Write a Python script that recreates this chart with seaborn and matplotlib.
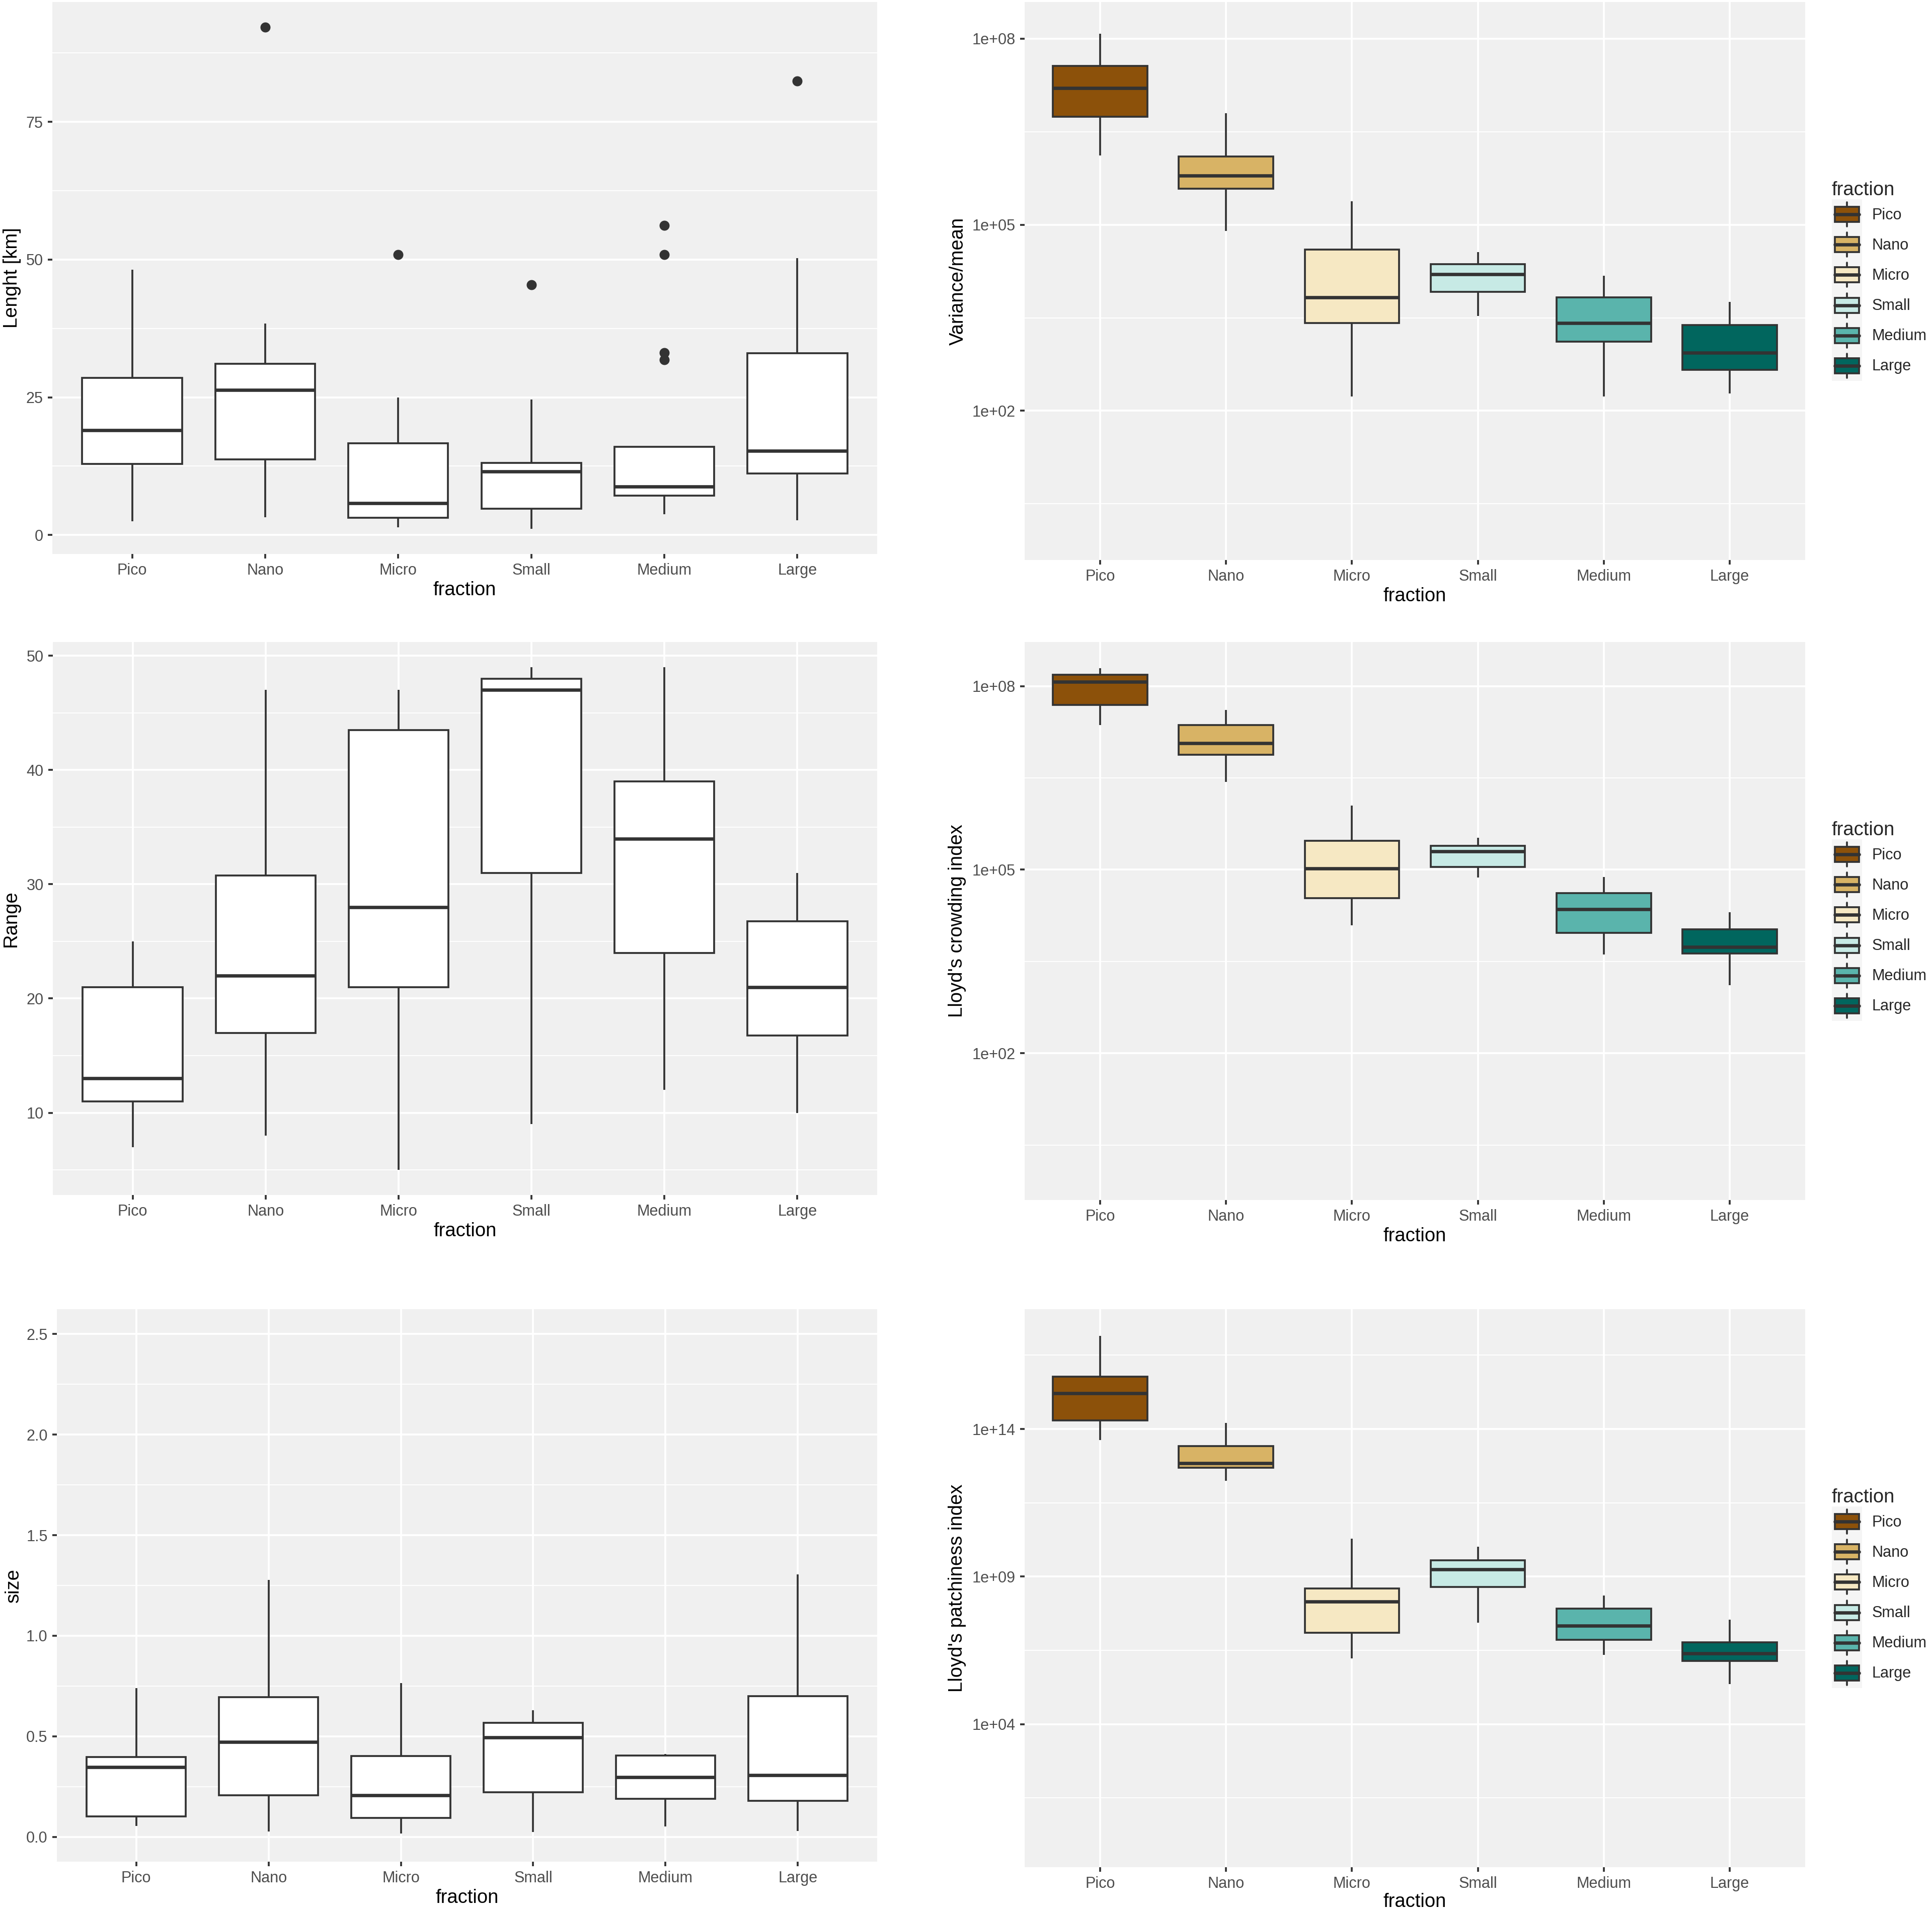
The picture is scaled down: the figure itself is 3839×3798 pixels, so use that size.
import pandas as pd
import seaborn as sns
import matplotlib
matplotlib.use('Agg')
import matplotlib.pyplot as plt
from matplotlib.ticker import FixedLocator, FixedFormatter
from matplotlib.patches import Patch, Rectangle
from matplotlib.lines import Line2D
from matplotlib.legend_handler import HandlerBase

fractions = ['Pico', 'Nano', 'Micro', 'Small', 'Medium', 'Large']
brbg = ['#8C510A', '#D8B365', '#F6E8C3', '#C7EAE5', '#5AB4AC', '#01665E']

# five-number summaries per fraction: lower whisker, Q1, median, Q3, upper whisker
length_stats = [[2.5, 12.9, 19.0, 28.5, 48.2],
                [3.2, 13.7, 26.3, 31.1, 38.4],
                [1.4, 3.1, 5.8, 16.6, 25.0],
                [1.1, 4.8, 11.5, 13.1, 24.6],
                [3.8, 7.1, 8.8, 16.0, 16.0],
                [2.7, 11.2, 15.3, 33.0, 50.3]]
length_out_frac = ['Nano', 'Micro', 'Small', 'Medium', 'Medium', 'Medium', 'Medium', 'Large']
length_out_val = [92.2, 50.9, 45.4, 31.8, 33.1, 50.9, 56.2, 82.4]

range_stats = [[7, 11, 13, 21, 25],
               [8, 17, 22, 30.75, 47],
               [5, 21, 28, 43.5, 47],
               [9, 31, 47, 48, 49],
               [12, 24, 34, 39, 49],
               [10, 16.75, 21, 26.75, 31]]

size_stats = [[0.055, 0.103, 0.347, 0.397, 0.739],
              [0.027, 0.207, 0.473, 0.694, 1.278],
              [0.016, 0.095, 0.207, 0.403, 0.766],
              [0.025, 0.222, 0.495, 0.567, 0.631],
              [0.053, 0.189, 0.296, 0.405, 0.413],
              [0.029, 0.179, 0.306, 0.701, 1.306]]

varmean_stats = [[1.3e6, 5.5e6, 1.6e7, 3.6e7, 1.2e8],
                 [8.0e4, 3.8e5, 6.2e5, 1.25e6, 6.3e6],
                 [1.7e2, 2.6e3, 6.8e3, 4.0e4, 2.4e5],
                 [3.4e3, 8.3e3, 1.6e4, 2.3e4, 3.6e4],
                 [1.7e2, 1.3e3, 2.6e3, 6.7e3, 1.5e4],
                 [1.9e2, 4.6e2, 8.6e2, 2.4e3, 5.7e3]]

crowding_stats = [[2.3e7, 4.9e7, 1.17e8, 1.53e8, 1.95e8],
                  [2.7e6, 7.6e6, 1.17e7, 2.3e7, 4.1e7],
                  [1.23e4, 3.4e4, 1.05e5, 2.95e5, 1.12e6],
                  [7.4e4, 1.1e5, 2.0e5, 2.45e5, 3.3e5],
                  [4.1e3, 9.3e3, 2.24e4, 4.1e4, 7.6e4],
                  [1.3e3, 4.3e3, 5.4e3, 1.05e4, 2.0e4]]

patchiness_stats = [[4.3e13, 1.95e14, 1.66e15, 6.0e15, 1.46e17],
                    [1.74e12, 4.8e12, 6.9e12, 2.6e13, 1.6e14],
                    [1.7e6, 1.23e7, 1.45e8, 4.0e8, 1.95e10],
                    [2.75e7, 4.5e8, 1.74e9, 3.6e9, 1.02e10],
                    [2.2e6, 7.1e6, 2.2e7, 8.1e7, 2.24e8],
                    [2.3e5, 1.4e6, 2.45e6, 6.0e6, 3.5e7]]

EDGE = '#333333'
PANEL = '#F0F0F0'
KEYBG = '#F5F5F5'
TICK_FS = 7.35
TITLE_FS = 9.2
LW = 0.9

sns.set_theme(style='darkgrid', rc={'axes.facecolor': PANEL})
plt.rcParams['font.family'] = ['Liberation Sans', 'DejaVu Sans']

W, H = 3839, 3798
fig = plt.figure(figsize=(W / 300, H / 300), dpi=300)
fig.patch.set_facecolor('white')


def add_ax(l, r, t, b):
    return fig.add_axes([l / W, 1 - b / H, (r - l) / W, (b - t) / H])


def long_df(stats):
    rows = [(f, v) for f, s in zip(fractions, stats) for v in s]
    return pd.DataFrame(rows, columns=['fraction', 'value'])


class BoxKey(HandlerBase):
    # ggplot-like boxplot legend key
    def create_artists(self, legend, orig_handle, xdescent, ydescent,
                       width, height, fontsize, trans):
        x0, y0 = -xdescent, -ydescent
        cx = x0 + width / 2
        bg = Rectangle((x0, y0), width, height, facecolor=KEYBG,
                       edgecolor='none', transform=trans)
        w1 = Line2D([cx, cx], [y0 + 0.1 * height, y0 + 0.25 * height],
                    color=EDGE, lw=LW, transform=trans)
        w2 = Line2D([cx, cx], [y0 + 0.75 * height, y0 + 0.9 * height],
                    color=EDGE, lw=LW, transform=trans)
        box = Rectangle((x0 + 0.1 * width, y0 + 0.25 * height),
                        0.8 * width, 0.5 * height,
                        facecolor=orig_handle.get_facecolor(), edgecolor=EDGE,
                        linewidth=LW, transform=trans)
        med = Line2D([x0 + 0.1 * width, x0 + 0.9 * width],
                     [y0 + 0.5 * height] * 2, color=EDGE, lw=1.6,
                     transform=trans)
        return [bg, w1, w2, box, med]


def box_panel(ax, stats, ylabel, ylab_x, filled=False, log=False, xlab_y=-0.049):
    df = long_df(stats)
    kw = dict(data=df, x='fraction', y='value', order=fractions,
              whis=(0, 100), width=0.75, linecolor=EDGE, linewidth=LW,
              showcaps=False, saturation=1, ax=ax,
              medianprops=dict(linewidth=1.6, color=EDGE),
              whiskerprops=dict(linewidth=LW, color=EDGE, zorder=3))
    if filled:
        sns.boxplot(hue='fraction', hue_order=fractions, palette=brbg,
                    legend=False, log_scale=log, **kw)
    else:
        sns.boxplot(color='white', **kw)

    ax.set_xlim(-0.6, 5.6)
    ax.set_xlabel('fraction', fontsize=TITLE_FS, color='black')
    ax.xaxis.set_label_coords(0.5, xlab_y)
    ax.set_ylabel(ylabel, fontsize=TITLE_FS, color='black')
    ax.yaxis.set_label_coords(ylab_x, 0.5)
    for s in ax.spines.values():
        s.set_visible(False)
    ax.set_axisbelow(True)
    ax.xaxis.grid(True, which='major', color='white', linewidth=0.9)
    ax.yaxis.grid(True, which='major', color='white', linewidth=0.9)
    ax.yaxis.grid(True, which='minor', color='white', linewidth=0.45)
    ax.tick_params(which='major', bottom=True, left=True, length=2.2,
                   width=LW, color=EDGE, pad=2.2, labelsize=TICK_FS,
                   labelcolor='#4D4D4D')
    ax.tick_params(which='minor', length=0)

    if filled:
        handles = [Patch(facecolor=c) for c in brbg]
        ax.legend(handles, fractions, handler_map={h: BoxKey() for h in handles},
                  title='fraction', title_fontsize=TITLE_FS, fontsize=TICK_FS,
                  loc='center left', bbox_to_anchor=(1.034, 0.5),
                  frameon=False, borderpad=0, borderaxespad=0,
                  labelspacing=0, handlelength=1.96, handleheight=2.64,
                  handletextpad=0.65, alignment='left')


def set_yticks(ax, major, labels, minor):
    ax.yaxis.set_major_locator(FixedLocator(major))
    ax.yaxis.set_major_formatter(FixedFormatter(labels))
    ax.yaxis.set_minor_locator(FixedLocator(minor))


# left column
ax1 = add_ax(104, 1743, 4, 1101)
box_panel(ax1, length_stats, 'Lenght [km]', -0.038)
sns.stripplot(x=length_out_frac, y=length_out_val, order=fractions, jitter=False,
              color=EDGE, size=4.8, linewidth=0, ax=ax1)
ax1.set_xlim(-0.6, 5.6)
set_yticks(ax1, [0, 25, 50, 75], ['0', '25', '50', '75'], [12.5, 37.5, 62.5, 87.5])

ax3 = add_ax(105, 1743, 1276, 2375)
box_panel(ax3, range_stats, 'Range', -0.040)
set_yticks(ax3, [10, 20, 30, 40, 50], ['10', '20', '30', '40', '50'], [5, 15, 25, 35, 45])

ax5 = add_ax(113, 1743, 2602, 3700)
box_panel(ax5, size_stats, 'size', -0.042)
ax5.set_ylim(-0.123, 2.623)
set_yticks(ax5, [0, 0.5, 1.0, 1.5, 2.0, 2.5],
           ['0.0', '0.5', '1.0', '1.5', '2.0', '2.5'],
           [0.25, 0.75, 1.25, 1.75, 2.25])

# right column (log scale, filled by fraction)
ax2 = add_ax(2036, 3587, 4, 1113)
box_panel(ax2, varmean_stats, 'Variance/mean', -0.0735, filled=True, log=True)
ax2.set_ylim(10 ** -0.405, 10 ** 8.59)
set_yticks(ax2, [1e2, 1e5, 1e8], ['1e+02', '1e+05', '1e+08'],
           [10 ** 0.5, 10 ** 3.5, 10 ** 6.5])

ax4 = add_ax(2036, 3587, 1276, 2385)
box_panel(ax4, crowding_stats, "Lloyd's crowding index", -0.075, filled=True, log=True)
ax4.set_ylim(10 ** -0.40, 10 ** 8.72)
set_yticks(ax4, [1e2, 1e5, 1e8], ['1e+02', '1e+05', '1e+08'],
           [10 ** 0.5, 10 ** 3.5, 10 ** 6.5])

ax6 = add_ax(2036, 3587, 2602, 3711)
box_panel(ax6, patchiness_stats, "Lloyd's patchiness index", -0.075, filled=True,
          log=True, xlab_y=-0.046)
ax6.set_ylim(10 ** -0.85, 10 ** 18.06)
set_yticks(ax6, [1e4, 1e9, 1e14], ['1e+04', '1e+09', '1e+14'],
           [10 ** 1.5, 10 ** 6.5, 10 ** 11.5, 10 ** 16.5])

fig.savefig('out.png', dpi=300)
